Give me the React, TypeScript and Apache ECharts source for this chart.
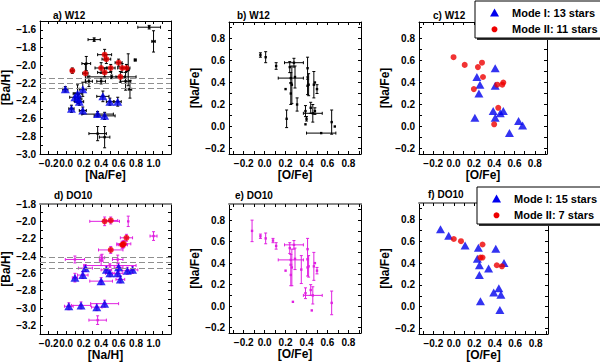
import React, { useEffect, useRef } from "react";
import * as echarts from "echarts";

// ---------- tick labels ----------
const naTicksWide = [-0.2, 0.0, 0.2, 0.4, 0.6, 0.8, 1.0];
const baTicksA = [-3.0, -2.8, -2.6, -2.4, -2.2, -2.0, -1.8, -1.6];
const baTicksD = [-3.2, -3.0, -2.8, -2.6, -2.4, -2.2, -2.0, -1.8];
const oFeTicks = [-0.2, 0.0, 0.2, 0.4, 0.6, 0.8];
const naFeTicks = [-0.2, 0.0, 0.2, 0.4, 0.6, 0.8];

// ---------- panel a) W12 : [Na/Fe] vs [Ba/H] ----------
const aModeI = [[-0.01, -2.27], [0.19, -2.27], [0.13, -2.32], [0.10, -2.36], [0.14, -2.38], [0.15, -2.41], [0.06, -2.49], [0.19, -2.51], [0.42, -2.35], [0.50, -2.41], [0.59, -2.41], [0.36, -2.55], [0.44, -2.57]];
const aModeII = [[0.07, -2.06], [0.22, -2.09], [0.44, -1.88], [0.46, -1.93], [0.40, -2.03], [0.44, -2.08], [0.51, -2.03], [0.60, -1.97], [0.64, -2.03], [0.69, -2.03], [0.62, -2.13]];
// [x, y, xErr, yErr]
const aErr = [
  [-0.01, -2.27, 0.03, 0.03], [0.19, -2.27, 0.04, 0.08], [0.13, -2.32, 0.05, 0.10], [0.10, -2.36, 0.06, 0.05],
  [0.14, -2.38, 0.04, 0.05], [0.15, -2.41, 0.05, 0.04], [0.06, -2.49, 0.03, 0.04], [0.19, -2.51, 0.04, 0.04],
  [0.42, -2.35, 0.07, 0.06], [0.50, -2.41, 0.04, 0.04], [0.59, -2.41, 0.04, 0.05], [0.36, -2.55, 0.18, 0.03],
  [0.44, -2.57, 0.12, 0.04], [0.07, -2.06, 0.02, 0.03], [0.22, -2.09, 0.03, 0.10], [0.44, -1.88, 0.08, 0.06],
  [0.46, -1.93, 0.05, 0.05], [0.40, -2.03, 0.07, 0.06], [0.44, -2.08, 0.08, 0.05], [0.51, -2.03, 0.05, 0.04],
  [0.60, -1.97, 0.04, 0.04], [0.64, -2.03, 0.05, 0.05], [0.69, -2.03, 0.04, 0.04], [0.62, -2.13, 0.05, 0.06],
  [0.95, -1.57, 0.13, 0.02], [1.00, -1.73, 0.02, 0.12], [0.32, -1.71, 0.07, 0.02], [0.79, -1.94, 0.01, 0.01],
  [0.23, -1.98, 0.05, 0.08], [0.26, -2.18, 0.04, 0.06], [0.40, -2.18, 0.05, 0.03], [0.68, -2.18, 0.06, 0.10],
  [0.73, -2.27, 0.02, 0.10], [0.71, -2.05, 0.01, 0.18], [0.52, -2.13, 0.28, 0.02], [0.36, -2.77, 0.10, 0.08],
  [0.44, -2.81, 0.06, 0.12],
];
const aDash = [-2.15, -2.20, -2.26];

// ---------- panel b) W12 : [O/Fe] vs [Na/Fe] ----------
const bErr = [
  [-0.04, 0.65, 0, 0.02], [0.01, 0.63, 0, 0.05], [0.11, 0.55, 0, 0.03], [0.24, 0.54, 0, 0.05],
  [0.28, 0.58, 0.09, 0.04], [0.25, 0.44, 0.12, 0.05], [0.29, 0.45, 0, 0.10], [0.41, 0.53, 0, 0.10],
  [0.20, 0.34, 0, 0], [0.26, 0.38, 0, 0.17], [0.25, 0.30, 0, 0.10], [0.31, 0.20, 0, 0.06],
  [0.41, 0.37, 0, 0.08], [0.42, 0.38, 0, 0.10], [0.47, 0.38, 0, 0.12], [0.48, 0.40, 0, 0],
  [0.50, 0.34, 0, 0.04], [0.39, 0.14, 0, 0.05], [0.44, 0.17, 0, 0.05], [0.48, 0.14, 0, 0.03],
  [0.46, 0.12, 0.09, 0.08], [0.21, 0.07, 0, 0.08], [0.39, 0.02, 0, 0], [0.40, 0.07, 0, 0.02],
  [0.64, 0.04, 0, 0.11], [0.67, 0.00, 0, 0], [0.54, -0.06, 0.14, 0],
];

// ---------- panel c) W12 : modes ----------
const cModeI = [[0.41, 0.53], [0.23, 0.45], [0.26, 0.38], [0.41, 0.37], [0.25, 0.30], [0.39, 0.14], [0.49, 0.14], [0.46, 0.12], [0.41, 0.08], [0.21, 0.08], [0.64, 0.05], [0.68, 0.01], [0.55, -0.06]];
const cModeII = [[0.00, 0.63], [0.11, 0.56], [0.24, 0.54], [0.28, 0.58], [0.29, 0.45], [0.20, 0.34], [0.43, 0.38], [0.49, 0.40], [0.48, 0.38], [0.44, 0.17], [0.40, 0.02]];

// ---------- panel d) DO10 : [Na/H] vs [Ba/H] ----------
const dModeI = [[0.10, -2.65], [0.19, -2.62], [0.22, -2.54], [0.40, -2.69], [0.46, -2.56], [0.50, -2.60], [0.59, -2.60], [0.60, -2.53], [0.62, -2.67], [0.70, -2.57], [0.76, -2.56], [0.03, -2.98], [0.17, -2.97], [0.35, -2.99], [0.44, -2.95]];
const dModeII = [[0.44, -2.00], [0.51, -1.99], [0.69, -2.19], [0.66, -2.26], [0.64, -2.27], [0.65, -2.27], [0.51, -2.33]];
const dErr = [
  [0.10, -2.65, 0.03, 0.05], [0.19, -2.62, 0.06, 0.04], [0.22, -2.54, 0.08, 0.04], [0.40, -2.69, 0.13, 0.04],
  [0.46, -2.56, 0.06, 0.04], [0.50, -2.60, 0.05, 0.04], [0.59, -2.60, 0.06, 0.04], [0.60, -2.53, 0.05, 0.05],
  [0.62, -2.67, 0.05, 0.04], [0.70, -2.57, 0.06, 0.04], [0.76, -2.56, 0.06, 0.04], [0.03, -2.98, 0.05, 0.04],
  [0.17, -2.97, 0.11, 0.04], [0.35, -2.99, 0.06, 0.04], [0.44, -2.95, 0.16, 0.04], [0.44, -2.00, 0.17, 0.05],
  [0.51, -1.99, 0.08, 0.04], [0.69, -2.19, 0.07, 0.04], [0.66, -2.26, 0.08, 0.04], [0.64, -2.27, 0.06, 0.04],
  [0.65, -2.27, 0.05, 0.04], [0.51, -2.33, 0.14, 0.04], [0.71, -2.00, 0, 0.06], [1.00, -2.17, 0.04, 0.05],
  [0.10, -2.44, 0.11, 0.04], [0.40, -2.45, 0.02, 0.06], [0.41, -2.42, 0.03, 0.04], [0.59, -2.44, 0.06, 0.05],
  [0.50, -2.51, 0.30, 0.02], [0.36, -3.14, 0.10, 0.05],
];
const dDash = [-2.41, -2.47, -2.54];

// ---------- panel e) DO10 : [O/Fe] vs [Na/Fe] ----------
const eErr = [
  [-0.12, 0.70, 0, 0.10], [-0.04, 0.65, 0, 0.02], [0.01, 0.63, 0, 0.05], [0.08, 0.61, 0, 0.02],
  [0.11, 0.56, 0, 0.03], [0.28, 0.57, 0.09, 0.04], [0.24, 0.54, 0, 0.05], [0.25, 0.43, 0.12, 0.05],
  [0.29, 0.44, 0, 0.10], [0.26, 0.36, 0, 0.17], [0.25, 0.29, 0, 0.10], [0.20, 0.33, 0, 0],
  [0.35, 0.34, 0, 0.13], [0.41, 0.53, 0, 0.10], [0.41, 0.36, 0, 0.08], [0.42, 0.37, 0, 0.10],
  [0.47, 0.37, 0, 0.13], [0.48, 0.40, 0, 0], [0.50, 0.33, 0, 0.03], [0.39, 0.12, 0, 0.05],
  [0.44, 0.15, 0, 0.05], [0.46, 0.10, 0.09, 0.08], [0.27, 0.04, 0, 0], [0.45, -0.04, 0, 0],
  [0.64, 0.03, 0, 0.11],
];

// ---------- panel f) DO10 : modes ----------
const fModeI = [[-0.13, 0.71], [-0.05, 0.65], [0.11, 0.56], [0.24, 0.54], [0.41, 0.53], [0.23, 0.44], [0.25, 0.38], [0.34, 0.35], [0.49, 0.40], [0.25, 0.29], [0.39, 0.13], [0.44, 0.17], [0.46, 0.11], [0.26, 0.05], [0.45, -0.03]];
const fModeII = [[0.00, 0.62], [0.07, 0.60], [0.28, 0.57], [0.26, 0.45], [0.28, 0.45], [0.42, 0.38], [0.47, 0.37]];

const legendC = ["Mode I: 13 stars", "Mode II: 11 stars"];
const legendF = ["Mode I: 15 stars", "Mode II: 7 stars"];
const titles = ["a) W12", "b) W12", "c) W12", "d) DO10", "e) DO10", "f) DO10"];

// ---------- styling ----------
const FONT = "'Liberation Sans', Arial, Helvetica, sans-serif";
const BLUE = "#0000ee";
const RED = "#ee0000";
const MAGENTA = "#e020e0";

function steps(a: number, b: number, s: number) {
  const out: number[] = [];
  const n = Math.round((b - a) / s);
  for (let i = 0; i <= n; i++) out.push(Math.round((a + i * s) * 100) / 100);
  return out;
}
const fmt = (v: number) => {
  const r = Math.round(v * 10) / 10;
  return (r < 0 ? "\u2212" : "") + Math.abs(r).toFixed(1);
};

type P = {
  grid: { left: number; top: number; width: number; height: number };
  xr: [number, number];
  yr: [number, number];
  xLab: number[];
  yLab: number[];
  xMinor: number[];
  yMinor: number[];
  xName: string;
  yName: string;
  topColor: string;
  topWidth: number;
};

const panels: P[] = [
  { grid: { left: 40, top: 21, width: 131, height: 133 }, xr: [-0.3, 1.2], yr: [-3.0, -1.5], xLab: naTicksWide, yLab: baTicksA, xMinor: steps(-0.2, 1.1, 0.1), yMinor: steps(-2.9, -1.6, 0.1), xName: "[Na/Fe]", yName: "[Ba/H]", topColor: "#000", topWidth: 1 },
  { grid: { left: 229, top: 22, width: 132, height: 132 }, xr: [-0.34, 0.92], yr: [-0.25, 0.95], xLab: oFeTicks, yLab: naFeTicks, xMinor: steps(-0.3, 0.9, 0.1), yMinor: steps(-0.2, 0.9, 0.1), xName: "[O/Fe]", yName: "[Na/Fe]", topColor: "#000", topWidth: 1 },
  { grid: { left: 419, top: 22, width: 128, height: 132 }, xr: [-0.34, 0.92], yr: [-0.25, 0.95], xLab: oFeTicks, yLab: naFeTicks, xMinor: steps(-0.3, 0.9, 0.1), yMinor: steps(-0.2, 0.9, 0.1), xName: "[O/Fe]", yName: "[Na/Fe]", topColor: "#000", topWidth: 1 },
  { grid: { left: 40, top: 204, width: 131, height: 130 }, xr: [-0.3, 1.2], yr: [-3.3, -1.8], xLab: naTicksWide, yLab: baTicksD, xMinor: steps(-0.2, 1.1, 0.1), yMinor: steps(-3.2, -1.9, 0.1), xName: "[Na/H]", yName: "[Ba/H]", topColor: "#888", topWidth: 2 },
  { grid: { left: 229, top: 204, width: 132, height: 129 }, xr: [-0.34, 0.92], yr: [-0.25, 0.95], xLab: oFeTicks, yLab: naFeTicks, xMinor: steps(-0.3, 0.9, 0.1), yMinor: steps(-0.2, 0.9, 0.1), xName: "[O/Fe]", yName: "[Na/Fe]", topColor: "#888", topWidth: 2 },
  { grid: { left: 419, top: 203, width: 129, height: 131 }, xr: [-0.34, 0.92], yr: [-0.25, 0.95], xLab: oFeTicks, yLab: naFeTicks, xMinor: steps(-0.3, 0.9, 0.1), yMinor: steps(-0.2, 0.9, 0.1), xName: "[O/Fe]", yName: "[Na/Fe]", topColor: "#888", topWidth: 2 },
];

const titlePos = [[53, 15], [237, 15], [433, 15], [54, 195], [235, 195], [428, 194]];

function errSeries(gi: number, data: number[][], color: string, dash?: number[]) {
  const s: any = {
    type: "custom",
    xAxisIndex: gi * 2,
    yAxisIndex: gi * 2,
    silent: true,
    clip: false,
    z: 2,
    dimensions: ["x", "y", "ex", "ey"],
    encode: { x: 0, y: 1 },
    data,
    renderItem: (_p: any, api: any) => {
      const x = api.value(0), y = api.value(1), ex = api.value(2), ey = api.value(3);
      const c = api.coord([x, y]);
      const ls = { stroke: color, lineWidth: 1 };
      const kids: any[] = [];
      const cap = 1.5;
      if (ex > 0) {
        const l = api.coord([x - ex, y]), r = api.coord([x + ex, y]);
        kids.push({ type: "line", shape: { x1: l[0], y1: c[1], x2: r[0], y2: c[1] }, style: ls });
        kids.push({ type: "line", shape: { x1: l[0], y1: c[1] - cap, x2: l[0], y2: c[1] + cap }, style: ls });
        kids.push({ type: "line", shape: { x1: r[0], y1: c[1] - cap, x2: r[0], y2: c[1] + cap }, style: ls });
      }
      if (ey > 0) {
        const t = api.coord([x, y + ey]), b = api.coord([x, y - ey]);
        kids.push({ type: "line", shape: { x1: c[0], y1: t[1], x2: c[0], y2: b[1] }, style: ls });
        kids.push({ type: "line", shape: { x1: c[0] - cap, y1: t[1], x2: c[0] + cap, y2: t[1] }, style: ls });
        kids.push({ type: "line", shape: { x1: c[0] - cap, y1: b[1], x2: c[0] + cap, y2: b[1] }, style: ls });
      }
      kids.push({ type: "rect", shape: { x: c[0] - 1.2, y: c[1] - 1.2, width: 2.4, height: 2.4 }, style: { fill: color } });
      return { type: "group", children: kids };
    },
  };
  if (dash) {
    s.markLine = {
      silent: true,
      symbol: ["none", "none"],
      label: { show: false },
      lineStyle: { color: "#8f8f8f", type: [6, 3], width: 1 },
      data: dash.map((v) => ({ yAxis: v })),
    };
  }
  return s;
}

function triSeries(gi: number, data: number[][]) {
  return { type: "scatter", xAxisIndex: gi * 2, yAxisIndex: gi * 2, data, symbol: "triangle", symbolSize: [9, 8], itemStyle: { color: BLUE }, z: 4, silent: true };
}
function dotSeries(gi: number, data: number[][]) {
  return { type: "scatter", xAxisIndex: gi * 2, yAxisIndex: gi * 2, data, symbol: "circle", symbolSize: 6, itemStyle: { color: RED }, z: 5, silent: true };
}

function legendGraphic(x: number, y: number, texts: string[]) {
  const h = 37;
  return [
    { type: "rect", shape: { x: x + 2, y: y + 2, width: 160, height: h }, style: { fill: "#333" }, z: 10 },
    { type: "rect", shape: { x, y, width: 160, height: h }, style: { fill: "#fff", stroke: "#000", lineWidth: 1 }, z: 11 },
    { type: "polygon", shape: { points: [[x + 19.5 - 4.5, y + 15.5], [x + 19.5 + 4.5, y + 15.5], [x + 19.5, y + 7.5]] }, style: { fill: BLUE }, z: 12 },
    { type: "circle", shape: { cx: x + 19.5, cy: y + 28.3, r: 3 }, style: { fill: RED }, z: 12 },
    { type: "text", x: x + 37, y: y + 11.7, style: { text: texts[0], font: `bold 11px ${FONT}`, fill: "#000", align: "left", verticalAlign: "middle", textAlign: "left", textVerticalAlign: "middle" }, z: 12 },
    { type: "text", x: x + 37, y: y + 28.3, style: { text: texts[1], font: `bold 11px ${FONT}`, fill: "#000", align: "left", verticalAlign: "middle", textAlign: "left", textVerticalAlign: "middle" }, z: 12 },
  ];
}

export default function App() {
  const ref = useRef<HTMLDivElement>(null);
  useEffect(() => {
    document.body.style.margin = "0";
    if (!ref.current) return;
    const chart = echarts.init(ref.current, undefined, { renderer: "svg" });
    const xAxis: any[] = [];
    const yAxis: any[] = [];
    panels.forEach((p, gi) => {
      const labelStyle = { fontSize: 10, fontWeight: "bold", color: "#000", fontFamily: FONT };
      const nameStyle = { fontSize: 12, fontWeight: "bold", color: "#000", fontFamily: FONT };
      xAxis.push({
        type: "value", gridIndex: gi, position: "bottom", min: p.xr[0], max: p.xr[1],
        name: p.xName, nameLocation: "middle", nameGap: 13, nameTextStyle: nameStyle,
        axisLine: { onZero: false, lineStyle: { color: "#000", width: 1 } },
        axisTick: { inside: true, length: 3, customValues: p.xMinor, lineStyle: { color: "#000" } },
        axisLabel: { customValues: p.xLab, formatter: fmt, margin: 4, ...labelStyle },
        splitLine: { show: false },
      });
      xAxis.push({
        type: "value", gridIndex: gi, position: "top", min: p.xr[0], max: p.xr[1],
        axisLine: { onZero: false, lineStyle: { color: p.topColor, width: p.topWidth } },
        axisTick: { inside: true, length: 3, customValues: p.xMinor, lineStyle: { color: "#000" } },
        axisLabel: { show: false }, splitLine: { show: false },
      });
      yAxis.push({
        type: "value", gridIndex: gi, position: "left", min: p.yr[0], max: p.yr[1],
        name: p.yName, nameLocation: "middle", nameGap: 24, nameTextStyle: nameStyle,
        axisLine: { onZero: false, lineStyle: { color: "#000", width: 1 } },
        axisTick: { inside: true, length: 3, customValues: p.yMinor, lineStyle: { color: "#000" } },
        axisLabel: { customValues: p.yLab, formatter: fmt, margin: 4, ...labelStyle },
        splitLine: { show: false },
      });
      yAxis.push({
        type: "value", gridIndex: gi, position: "right", min: p.yr[0], max: p.yr[1],
        axisLine: { onZero: false, lineStyle: { color: "#000", width: 1 } },
        axisTick: { inside: true, length: 3, customValues: p.yMinor, lineStyle: { color: "#000" } },
        axisLabel: { show: false }, splitLine: { show: false },
      });
    });

    const series: any[] = [
      errSeries(0, aErr, "#000", aDash),
      triSeries(0, aModeI),
      dotSeries(0, aModeII),
      errSeries(1, bErr, "#000"),
      triSeries(2, cModeI),
      dotSeries(2, cModeII),
      errSeries(3, dErr, MAGENTA, dDash),
      triSeries(3, dModeI),
      dotSeries(3, dModeII),
      errSeries(4, eErr, MAGENTA),
      triSeries(5, fModeI),
      dotSeries(5, fModeII),
    ];

    const graphic: any[] = [
      ...titles.map((t, i) => ({
        type: "text", x: titlePos[i][0], y: titlePos[i][1],
        style: { text: t, font: `bold 10px ${FONT}`, fill: "#000", align: "left", verticalAlign: "middle", textAlign: "left", textVerticalAlign: "middle" },
        z: 12,
      })),
      ...legendGraphic(475, 1, legendC),
      ...legendGraphic(477, 187, legendF),
    ];

    chart.setOption({
      animation: false,
      backgroundColor: "#fff",
      textStyle: { fontFamily: FONT },
      grid: panels.map((p) => ({ ...p.grid, containLabel: false, outerBoundsMode: "none" })),
      xAxis,
      yAxis,
      series,
      graphic,
    });
    return () => chart.dispose();
  }, []);
  return <div ref={ref} style={{ width: 600, height: 363 }} />;
}
